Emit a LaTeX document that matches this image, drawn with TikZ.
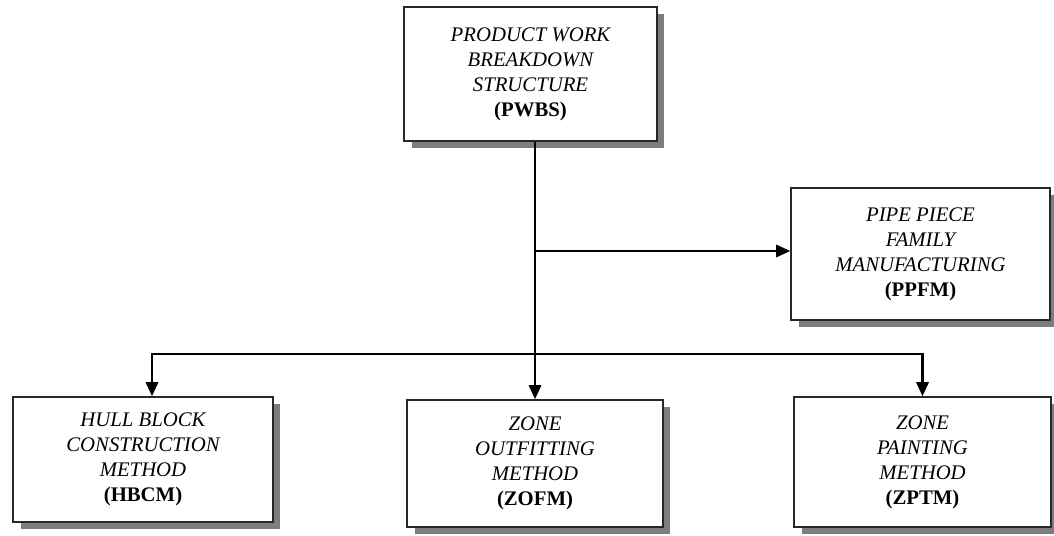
\documentclass[tikz,border=0pt]{standalone}
\usepackage{fontspec}
\setmainfont{Liberation Serif}
\usepackage{tikz}
\usetikzlibrary{arrows.meta,shadows}
\definecolor{boxline}{RGB}{40,40,40}
\definecolor{boxshade}{RGB}{125,125,125}
\tikzset{
  methodbox/.style={draw=boxline,line width=0.9pt,fill=white,align=center,
    inner sep=2pt,font=\fontsize{11.8}{14.2}\selectfont\itshape,
    drop shadow={shadow xshift=0.15cm,shadow yshift=-0.14cm,fill=boxshade,opacity=1}},
  flowline/.style={line width=1.3pt,black},
  flowarrow/.style={flowline,-{Triangle[length=8pt,width=7pt]}}
}
\newcommand{\abbr}[1]{{\upshape\bfseries (#1)}}

\begin{document}
\begin{tikzpicture}[x=0.02cm,y=-0.02cm]
    \useasboundingbox (0,0) rectangle (1054,535);
    % top of the tree
    \node[methodbox,minimum width=5.06cm,minimum height=2.68cm] (pwbs) at (530.5,74)
      {PRODUCT WORK\\BREAKDOWN\\STRUCTURE\\\abbr{PWBS}};
    \node[methodbox,minimum width=5.18cm,minimum height=2.64cm] (ppfm) at (920.5,254)
      {PIPE PIECE\\FAMILY\\MANUFACTURING\\\abbr{PPFM}};
    % the three methods
    \node[methodbox,minimum width=5.2cm,minimum height=2.5cm] (hbcm) at (143,459.5)
      {HULL BLOCK\\CONSTRUCTION\\METHOD\\\abbr{HBCM}};
    \node[methodbox,minimum width=5.12cm,minimum height=2.54cm] (zofm) at (535,463.5)
      {ZONE\\OUTFITTING\\METHOD\\\abbr{ZOFM}};
    \node[methodbox,minimum width=5.14cm,minimum height=2.6cm] (zptm) at (922.5,462)
      {ZONE\\PAINTING\\METHOD\\\abbr{ZPTM}};
    \coordinate (branch) at (535,251);
    \coordinate (split) at (535,354);
    \draw[flowarrow] (pwbs.south -| zofm.north) -- (zofm.north);
    \draw[flowarrow] (branch) -- (branch -| ppfm.west);
    \draw[flowarrow] (split) -| ([xshift=0.18cm]hbcm.north);
    \draw[flowarrow] (split) -| (zptm.north);
  \end{tikzpicture}
\end{document}
